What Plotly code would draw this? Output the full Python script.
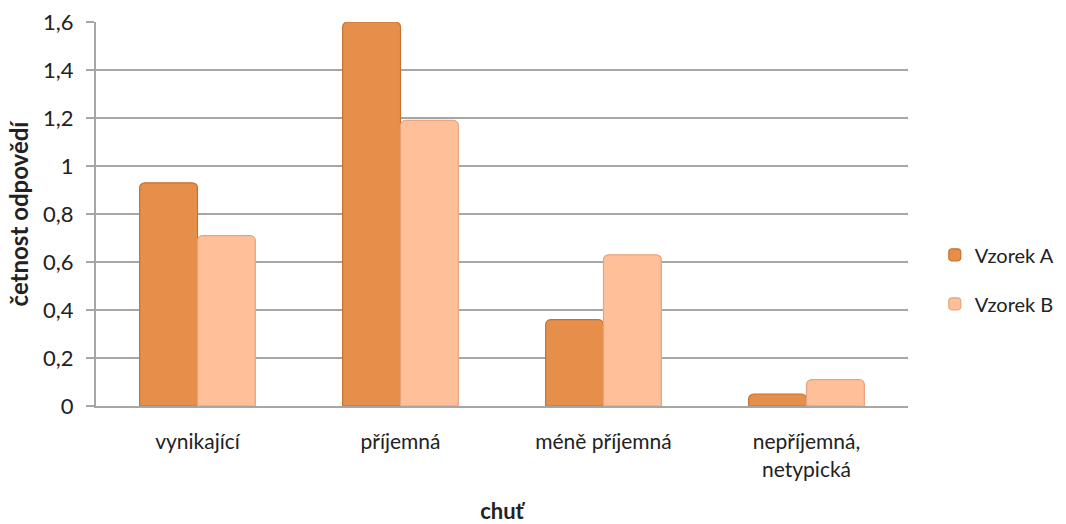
import plotly.graph_objects as go

# Hodnocení chuti – četnost odpovědí pro dva vzorky
categories = ["vynikající", "příjemná", "méně příjemná", "nepříjemná,<br>netypická"]
vzorek_a = [0.93, 1.6, 0.36, 0.05]
vzorek_b = [0.71, 1.19, 0.63, 0.11]
y_ticks = [0, 0.2, 0.4, 0.6, 0.8, 1.0, 1.2, 1.4, 1.6]
y_tick_labels = ["0", "0,2", "0,4", "0,6", "0,8", "1", "1,2", "1,4", "1,6"]

FONT = "Lato, 'Open Sans', sans-serif"
GRID = "#A6A6A6"

fig = go.Figure()
fig.add_trace(go.Bar(
    name="Vzorek A", x=categories, y=vzorek_a, legendgroup="a",
    marker=dict(color="#E68F4A", line=dict(color="#C5722F", width=1.2), cornerradius=5),
))
fig.add_trace(go.Bar(
    name="Vzorek B", x=categories, y=vzorek_b, legendgroup="b",
    marker=dict(color="#FFBF98", line=dict(color="#E8A47E", width=1.2), cornerradius=5),
))

fig.update_layout(
    width=1066, height=524,
    margin=dict(l=96, r=158, t=22, b=118, autoexpand=False),
    paper_bgcolor="white", plot_bgcolor="white",
    font=dict(family=FONT, size=21, color="#222222"),
    barmode="group", bargap=0.43, bargroupgap=0.0,
    showlegend=True,
    legend=dict(
        x=1.033, y=0.33, xanchor="left", yanchor="middle",
        traceorder="grouped", tracegroupgap=20,
        font=dict(family=FONT, size=20, color="#222222"),
        itemwidth=30, bgcolor="rgba(0,0,0,0)",
    ),
    xaxis=dict(
        showgrid=False, showline=True, linecolor=GRID, linewidth=2,
        ticks="", tickfont=dict(size=21), ticklabelstandoff=16,
        title=dict(text="<b>chuť</b>", font=dict(size=22), standoff=28),
    ),
    yaxis=dict(
        range=[0, 1.6], tickvals=y_ticks, ticktext=y_tick_labels,
        showgrid=True, gridcolor=GRID, gridwidth=2,
        showline=True, linecolor=GRID, linewidth=2,
        ticks="outside", ticklen=8, tickcolor=GRID, tickwidth=2,
        tickfont=dict(size=22), ticklabelstandoff=8, zeroline=False,
        title=dict(text="<b>četnost odpovědí</b>", font=dict(size=24), standoff=8),
    ),
)

fig.write_html("out.html")
